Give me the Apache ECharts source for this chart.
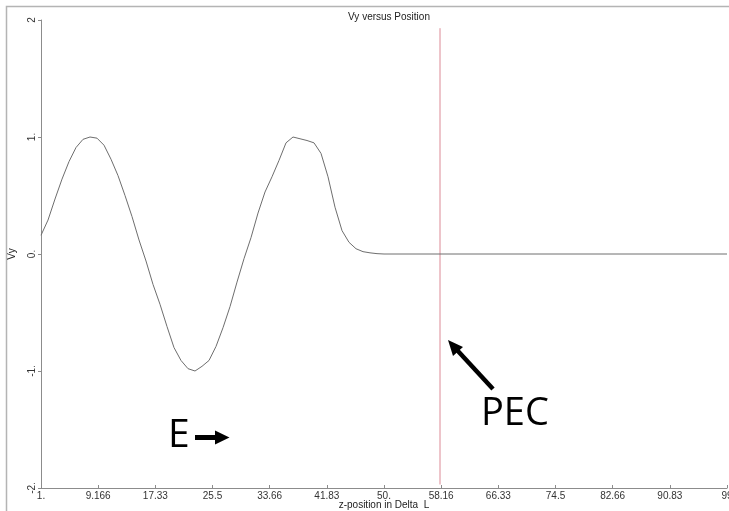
<!DOCTYPE html>
<html>
<head>
<meta charset="utf-8">
<script src="https://cdn.jsdelivr.net/npm/echarts@6/dist/echarts.min.js"></script>
<style>
html,body{margin:0;padding:0;background:#fff;}
#main{width:729px;height:511px;}
</style>
</head>
<body>
<div id="main"></div>
<script>
// ---- data ----
var zPos = [1,2,3,4,5,6,7,8,9,10,11,12,13,14,15,16,17,18,19,20,21,22,23,24,25,26,27,28,29,30,31,32,33,34,35,36,37,38,39,40,41,42,43,44,45,46,47,48,49,50,99];
var vy = [0.16,0.29,0.47,0.64,0.79,0.91,0.98,1.0,0.99,0.93,0.81,0.67,0.50,0.32,0.12,-0.06,-0.26,-0.43,-0.62,-0.80,-0.91,-0.98,-1.0,-0.96,-0.91,-0.79,-0.63,-0.45,-0.24,-0.04,0.14,0.35,0.53,0.66,0.80,0.95,1.0,0.985,0.97,0.95,0.86,0.66,0.40,0.20,0.10,0.045,0.02,0.01,0.003,0,0];
var pecZ = 58;
var pecVy = [1.93, -1.97];
var xTickLabels = ['1.','9.166','17.33','25.5','33.66','41.83','50.','58.16','66.33','74.5','82.66','90.83','99'];
var yTickLabels = ['-2.','-1.','0.','1.','2'];
var xMin = 1, xMax = 99, yMin = -2, yMax = 2;

var curve = zPos.map(function(z,i){return [z, vy[i]];});
var pecLine = pecVy.map(function(v){return [pecZ, v];});
var xStep = (xMax - xMin) / (xTickLabels.length - 1);

var chart = echarts.init(document.getElementById('main'), null, {renderer:'canvas'});
var axisColor = '#8c8c8c';
var txtFont = 'Liberation Sans, Arial, sans-serif';

chart.setOption({
  animation:false,
  backgroundColor:'#fff',
  title:{
    text:'Vy versus Position', left:384, top:7, textAlign:'center',
    textStyle:{fontSize:10, fontWeight:'normal', color:'#222', fontFamily:txtFont}
  },
  grid:{left:41, right:2, top:20, bottom:23, containLabel:false, outerBoundsMode:'none'},
  xAxis:{
    type:'value', min:xMin, max:xMax, interval:xStep,
    name:'z-position in Delta  L', nameLocation:'middle', nameGap:12, nameMoveOverlap:false,
    nameTextStyle:{fontSize:10, color:'#222', fontFamily:txtFont, verticalAlign:'top'},
    axisLine:{onZero:false, lineStyle:{color:axisColor, width:1}},
    axisTick:{show:true, inside:true, length:3, lineStyle:{color:axisColor}},
    splitLine:{show:false},
    axisLabel:{
      fontSize:10, color:'#333', fontFamily:txtFont, margin:3,
      showMinLabel:true, showMaxLabel:true,
      formatter:function(v){var k=Math.round((v-xMin)/xStep); return xTickLabels[k]!==undefined?xTickLabels[k]:'';}
    }
  },
  yAxis:{
    type:'value', min:yMin, max:yMax, interval:1,
    name:'Vy', nameLocation:'middle', nameGap:24, nameRotate:90, nameMoveOverlap:false,
    nameTextStyle:{fontSize:10, color:'#222', fontFamily:txtFont},
    axisLine:{show:true, onZero:false, lineStyle:{color:axisColor, width:1}},
    axisTick:{show:true, inside:false, length:3, lineStyle:{color:axisColor}},
    splitLine:{show:false},
    axisLabel:{
      fontSize:10, color:'#333', fontFamily:txtFont, rotate:90, margin:4,
      formatter:function(v){var k=Math.round(v-yMin); return yTickLabels[k]!==undefined?yTickLabels[k]:'';}
    }
  },
  series:[
    {
      type:'line', data:curve, showSymbol:false, smooth:false,
      lineStyle:{color:'#6e6e6e', width:1}, z:3
    },
    {
      type:'line', data:pecLine, showSymbol:false,
      lineStyle:{color:'#dc8a96', width:1}, z:2
    }
  ],
  graphic:[
    {type:'rect', shape:{x:6.5, y:6.5, width:760, height:560}, style:{fill:'none', stroke:'#b4b4b4', lineWidth:1.5}, silent:true, z:0},
    {type:'text', left:168, top:416, style:{text:'E', font:'39px "Open Sans", sans-serif', fill:'#000'}},
    {type:'rect', shape:{x:195, y:435, width:22, height:5}, style:{fill:'#000'}},
    {type:'polygon', shape:{points:[[215,430.5],[229.5,437.5],[215,444.5]]}, style:{fill:'#000'}},
    {type:'text', left:481, top:395, style:{text:'PEC', font:'38px "Open Sans", sans-serif', fill:'#000'}},
    {type:'line', shape:{x1:493, y1:389, x2:457, y2:350}, style:{stroke:'#000', lineWidth:4.5}},
    {type:'polygon', shape:{points:[[448,340],[463,347],[453,356]]}, style:{fill:'#000'}}
  ]
});
</script>
</body>
</html>
